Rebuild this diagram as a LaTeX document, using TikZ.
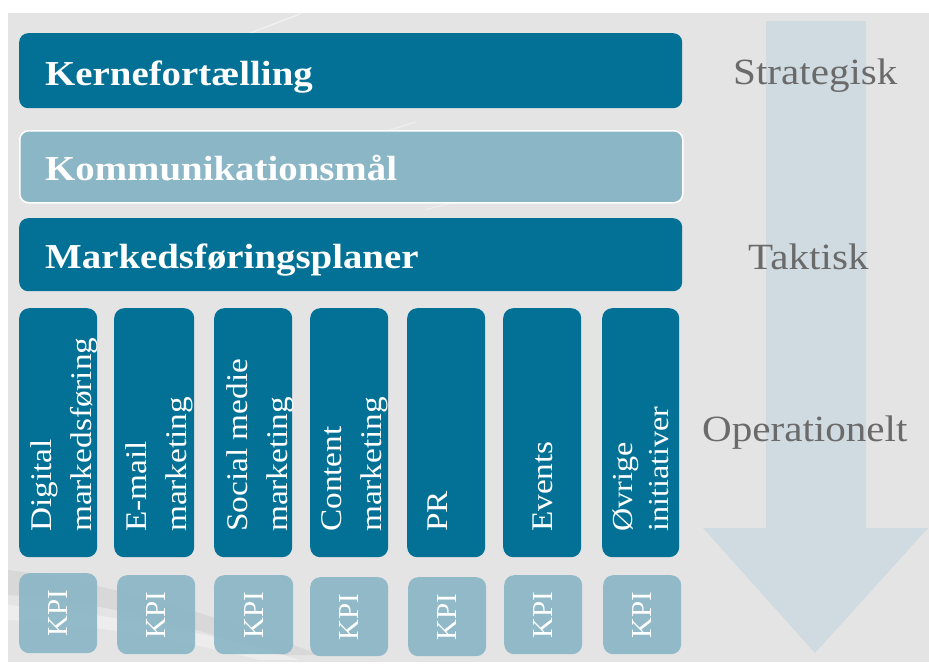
\documentclass[tikz,border=0pt]{standalone}
\usepackage{fontspec}
\setmainfont{Liberation Serif}
\newfontfamily\headfont[FakeStretch=1.11]{Liberation Serif}
\definecolor{planteal}{HTML}{037196}
\definecolor{planlight}{HTML}{8BB6C6}
\definecolor{plangrey}{HTML}{E4E4E4}
\definecolor{arrowblue}{HTML}{CFDBE1}
\definecolor{sidegrey}{HTML}{6A6A6A}
\begin{document}
\begin{tikzpicture}[x=1pt,y=-1pt,
  band/.style={rounded corners=9pt, fill=planteal, inner sep=0pt, anchor=north west},
  lightband/.style={band, fill=planlight, draw=white, line width=1.5pt},
  colbox/.style={rounded corners=10pt, fill=planteal, inner sep=0pt, anchor=north west,
    minimum width=78pt, minimum height=249pt},
  kpibox/.style={rounded corners=10pt, fill=planlight, fill opacity=0.92, inner sep=0pt,
    anchor=north west, minimum width=78pt, minimum height=79pt},
  headlabel/.style={anchor=base west, inner sep=0pt, text=white,
    font=\headfont\bfseries\fontsize{35}{40}\selectfont},
  coltext/.style={rotate=90, anchor=north west, align=left, inner sep=0pt, text=white,
    font=\headfont\fontsize{30}{40}\selectfont},
  kpitext/.style={rotate=90, inner sep=0pt, text=white, text opacity=1,
    font=\fontsize{29}{32}\selectfont},
  sidelabel/.style={anchor=base west, inner sep=0pt, text=sidegrey,
    font=\headfont\fontsize{37}{44}\selectfont}]
\useasboundingbox (0,0) rectangle (929,664);
% page and backdrop
\fill[white] (0,0) rectangle (929,664);
\fill[plangrey] (8,13) rectangle (929,662);
% faint decorative strokes in the backdrop
\begin{scope}[line cap=round]
  \draw[white, opacity=0.55, line width=1.2pt] (245,35) -- (300,14);
  \draw[white, opacity=0.45, line width=1pt] (355,108) -- (415,88);
  \draw[white, opacity=0.45, line width=1pt] (350,143) -- (415,122);
  \draw[white, opacity=0.35, line width=1pt] (410,185) -- (450,170);
  \draw[white, opacity=0.35, line width=1pt] (425,210) -- (480,195);
  \fill[black, opacity=0.05] (8,570) .. controls (120,585) and (230,620) .. (320,655)
     -- (280,655) .. controls (200,630) and (100,600) .. (8,595) -- cycle;
  \fill[white, opacity=0.35] (8,605) .. controls (120,615) and (220,635) .. (300,660)
     -- (260,660) .. controls (180,640) and (100,625) .. (8,620) -- cycle;
\end{scope}
% downward arrow
\fill[arrowblue] (766,21) -- (866,21) -- (866,528) -- (928,528) -- (815,653)
  -- (703,528) -- (766,528) -- cycle;
% level labels
\node[sidelabel] (strat) at (733,84) {Strategisk};
\node[sidelabel] (takt) at (748,269) {Taktisk};
\node[sidelabel] (oper) at (702,441) {Operationelt};
% three horizontal levels
\node[band, minimum width=663pt, minimum height=75pt] (kerne) at (19,33) {};
\node[lightband, minimum width=663pt, minimum height=72pt] (komm) at (19,130) {};
\node[band, minimum width=663pt, minimum height=73pt] (mark) at (19,218) {};
\node[headlabel] (kernetxt) at (45,85) {Kernefortælling};
\node[headlabel] (kommtxt) at (45,180) {Kommunikationsmål};
\node[headlabel] (marktxt) at (45,268.5) {Markedsføringsplaner};
% channel columns
\node[colbox] (c1) at (19,308) {};
\node[colbox, minimum width=80pt] (c2) at (114,308) {};
\node[colbox] (c3) at (214,308) {};
\node[colbox] (c4) at (310,308) {};
\node[colbox] (c5) at (407,308) {};
\node[colbox] (c6) at (503,308) {};
\node[colbox, minimum width=77pt] (c7) at (602,308) {};
\node[coltext] (c1txt) at (30.5,532) {Digital\\markedsføring};
\node[coltext] (c2txt) at (125.5,532) {E-mail\\marketing};
\node[coltext] (c3txt) at (226.5,532) {Social medie\\marketing};
\node[coltext] (c4txt) at (321.5,532) {Content\\marketing};
\node[coltext] (c5txt) at (427.5,532) {PR};
\node[coltext] (c6txt) at (532.5,532) {Events};
\node[coltext, font=\headfont\fontsize{29}{36}\selectfont] (c7txt) at (613,532) {Øvrige\\initiativer};
% KPI boxes
\node[kpibox, minimum height=80pt] (k1) at (19,573) {};
\node[kpibox] (k2) at (117,575) {};
\node[kpibox, minimum width=79pt] (k3) at (214,575) {};
\node[kpibox] (k4) at (310,577) {};
\node[kpibox] (k5) at (408,577) {};
\node[kpibox] (k6) at (504,575) {};
\node[kpibox] (k7) at (603,575) {};
\foreach \k in {1,...,7}{
  \node[kpitext] (k\k txt) at (k\k.center) {KPI};
}
\end{tikzpicture}
\end{document}
